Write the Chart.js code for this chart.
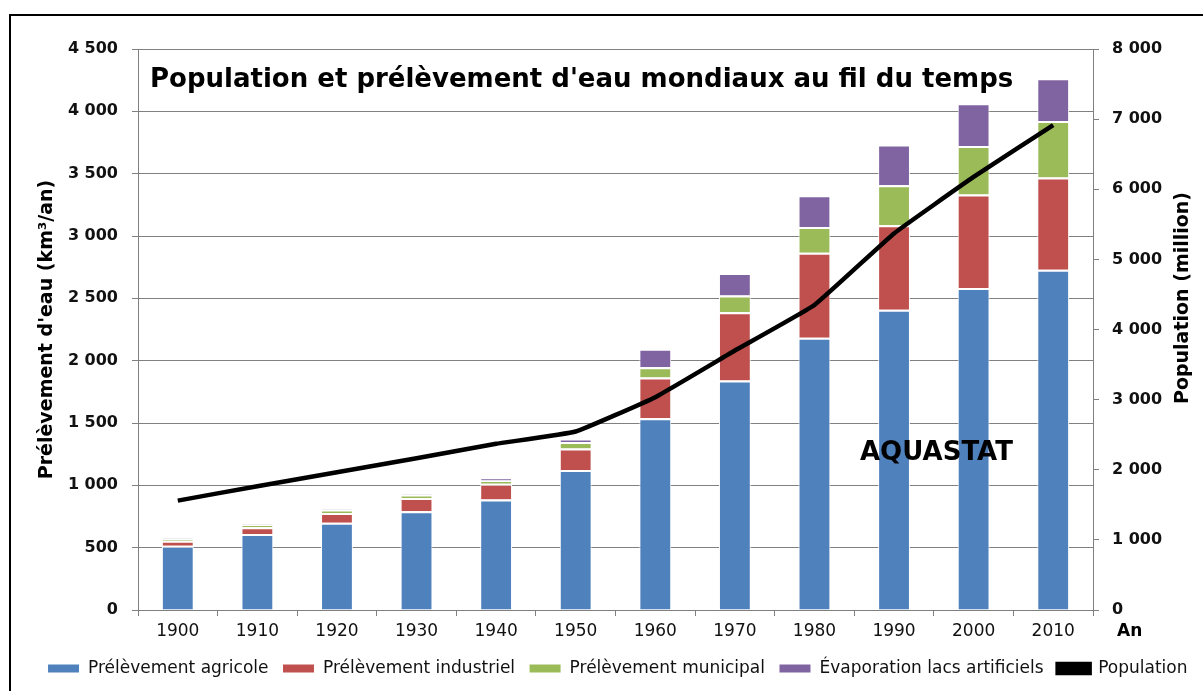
<!DOCTYPE html>
<html lang="fr">
<head>
<meta charset="utf-8">
<title>Population et prélèvement d'eau mondiaux</title>
<script src="https://cdn.jsdelivr.net/npm/chart.js@4.4.1/dist/chart.umd.min.js"></script>
<style>
  html, body { margin: 0; padding: 0; background: #fff; overflow: hidden; }
  .chart-box { position: relative; width: 1203px; height: 691px; }
</style>
</head>
<body>
<div class="chart-box"><canvas id="water-chart"></canvas></div>
<script>
// data (km3/an, population en millions)
const years = ["1900", "1910", "1920", "1930", "1940", "1950", "1960", "1970", "1980", "1990", "2000", "2010"];
const agricole = [515, 610, 700, 793, 887, 1123, 1538, 1840, 2183, 2408, 2582, 2730];
const industriel = [40, 54, 78, 105, 126, 173, 326, 549, 683, 678, 750, 739];
const municipal = [15, 20, 26, 26, 26, 51, 83, 134, 206, 321, 389, 453];
const evaporation = [3, 3, 4, 5, 19, 25, 148, 180, 255, 327, 343, 343];
const population = [1560, 1765, 1965, 2165, 2370, 2545, 3035, 3700, 4350, 5370, 6175, 6915];

const chartTitle = "Population et prélèvement d'eau mondiaux au fil du temps";
const leftTitle = "Prélèvement d'eau (km³/an)";
const rightTitle = "Population (million)";

const gridGray = "#808080";
const font = "'DejaVu Sans', sans-serif";

Chart.defaults.font.family = font;
Chart.defaults.color = "#111";

// "4 500" style numbers
const spaced = (v) => String(v).replace(/\B(?=(\d{3})+(?!\d))/g, " ");

// white background, frame, and the loose texts of the picture
const extraText = {
  id: "extraText",
  beforeDraw(chart) {
    const ctx = chart.ctx;
    ctx.save();
    ctx.fillStyle = "#fff";
    ctx.fillRect(0, 0, chart.width, chart.height);
    ctx.strokeStyle = "#000";
    ctx.lineWidth = 2;
    ctx.beginPath();
    ctx.moveTo(10, chart.height);
    ctx.lineTo(10, 15);
    ctx.lineTo(chart.width, 15);
    ctx.stroke();
    ctx.restore();
  },
  afterDraw(chart) {
    const { ctx, chartArea } = chart;
    ctx.save();
    ctx.fillStyle = "#000";
    ctx.textBaseline = "middle";
    ctx.font = "bold 26px " + font;
    ctx.fillText(chartTitle, chartArea.left + 12, 80);
    ctx.font = "bold 26px " + font;
    ctx.fillText("AQUASTAT", 860, 453);
    ctx.font = "bold 17px " + font;
    ctx.fillText("An", chartArea.right + 24, 632);
    ctx.translate(1183, 298);
    ctx.rotate(-Math.PI / 2);
    ctx.textAlign = "center";
    ctx.font = "bold 19px " + font;
    ctx.fillText(rightTitle, 0, 0);
    ctx.restore();
  },
};

const barStyle = {
  type: "bar",
  stack: "eau",
  order: 1,
  borderColor: "#fff",
  borderWidth: { top: 2, left: 1, right: 1, bottom: 0 },
  borderSkipped: false,
  categoryPercentage: 1,
  barPercentage: 0.4,
};

const waterChart = new Chart(document.getElementById("water-chart"), {
  data: {
    labels: years,
    datasets: [
      { ...barStyle, label: "Prélèvement agricole", backgroundColor: "#4F81BD", data: agricole },
      { ...barStyle, label: "Prélèvement industriel", backgroundColor: "#C0504D", data: industriel },
      { ...barStyle, label: "Prélèvement municipal", backgroundColor: "#9BBB59", data: municipal },
      { ...barStyle, label: "Évaporation lacs artificiels", backgroundColor: "#8064A2", data: evaporation },
      {
        type: "line",
        label: "Population",
        yAxisID: "y2",
        order: 0,
        data: population,
        borderColor: "#000",
        backgroundColor: "#000",
        borderWidth: 4.5,
        tension: 0.1,
        pointRadius: 0,
      },
    ],
  },
  options: {
    responsive: true,
    maintainAspectRatio: false,
    animation: false,
    layout: { padding: { top: 49, left: 32, right: 0, bottom: 4 } },
    plugins: {
      legend: {
        position: "bottom",
        labels: {
          boxWidth: 32,
          boxHeight: 9,
          padding: 14,
          color: "#111",
          font: { size: 17 },
          sort: (a, b) => a.datasetIndex - b.datasetIndex,
        },
      },
      tooltip: { enabled: false },
    },
    scales: {
      x: {
        stacked: true,
        afterFit: (scale) => { scale.height = 36; },
        grid: { offset: true, drawOnChartArea: false, tickLength: 6, color: gridGray },
        border: { color: gridGray },
        ticks: { padding: 5, font: { size: 17 }, color: "#111" },
      },
      y: {
        stacked: true,
        position: "left",
        min: 0,
        max: 4500,
        afterFit: (scale) => { scale.width = 106; },
        grid: { color: gridGray, tickLength: 6 },
        border: { color: gridGray },
        ticks: {
          stepSize: 500,
          padding: 14,
          font: { size: 16, weight: "bold" },
          color: "#111",
          callback: (v) => spaced(v),
        },
        title: {
          display: true,
          text: leftTitle,
          color: "#000",
          font: { size: 19, weight: "bold" },
        },
      },
      y2: {
        position: "right",
        min: 0,
        max: 8000,
        afterFit: (scale) => { scale.width = 110; },
        grid: { drawOnChartArea: false, color: gridGray, tickLength: 6 },
        border: { color: gridGray },
        ticks: {
          stepSize: 1000,
          padding: 13,
          font: { size: 16, weight: "bold" },
          color: "#111",
          callback: (v) => spaced(v),
        },
      },
    },
  },
  plugins: [extraText],
});
</script>
</body>
</html>
